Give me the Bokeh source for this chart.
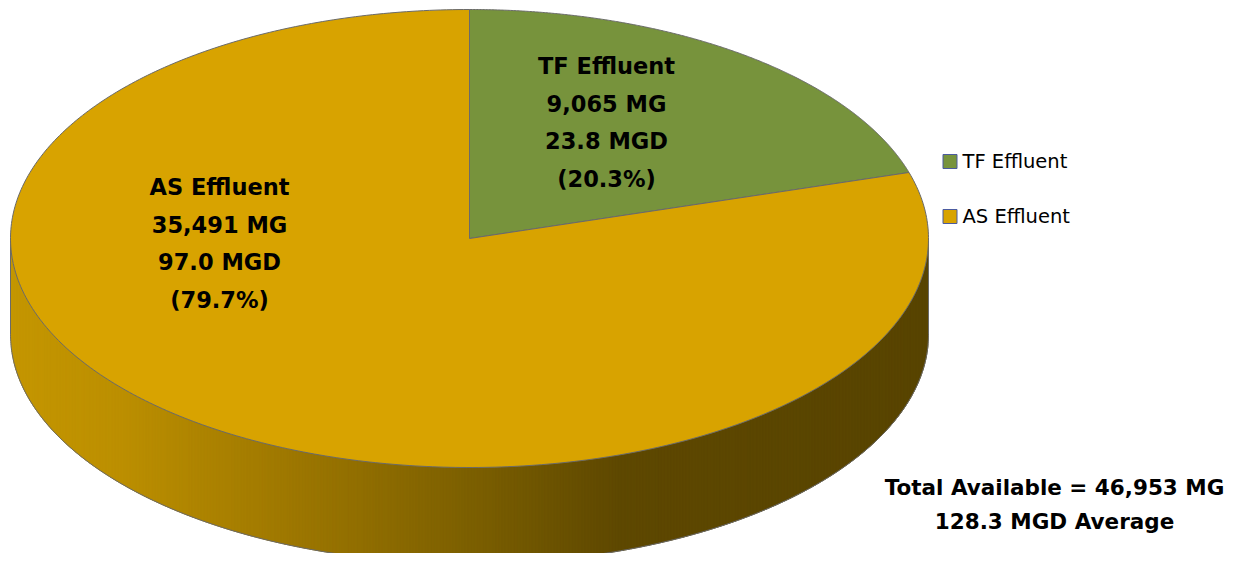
import numpy as np
from bokeh.plotting import figure
from bokeh.models import Range1d
from bokeh.core.properties import value
from bokeh.embed import file_html
from bokeh.resources import INLINE

# ---- data ----
categories = ["TF Effluent", "AS Effluent"]
volume_mg = [9065, 35491]
flow_mgd = [23.8, 97.0]
percent = [20.3, 79.7]
total_mg = 46953
total_mgd = 128.3

# ---- styles / layout ----
colors = ["#77933C", "#D8A300"]
W, H = 1225, 553
CX, CY, RX, RY, DEPTH = 469, 238, 459, 229, 96
OUTLINE = "#6A6A6A"
FONT = value("DejaVu Sans")
label_pos = [(606, 122), (219, 243)]
LINE_GAP = 37.5

p = figure(width=W, height=H, output_backend="svg", toolbar_location=None,
           x_range=Range1d(0, W), y_range=Range1d(H, 0),
           min_border=0, outline_line_color=None)
p.axis.visible = False
p.grid.visible = False
p.background_fill_color = "white"
p.border_fill_color = "white"


def pt(theta, dy=0.0):
    return CX + RX * np.sin(theta), CY - RY * np.cos(theta) + dy


# ---- side wall (front half, horizontal gradient) ----
stops_x = [10, 120, 300, 480, 620, 928]
stops_c = [(196, 150, 0), (188, 143, 0), (156, 118, 0), (122, 94, 0), (94, 72, 0), (88, 68, 0)]


def wall_color(x):
    r = np.interp(x, stops_x, [c[0] for c in stops_c])
    g = np.interp(x, stops_x, [c[1] for c in stops_c])
    b = np.interp(x, stops_x, [c[2] for c in stops_c])
    return "#%02x%02x%02x" % (int(round(r)), int(round(g)), int(round(b)))


def front_y(x):
    u = np.clip((x - CX) / RX, -1, 1)
    return CY + RY * np.sqrt(1 - u * u)


# full wall base (no seams), then gradient strips on top
xb = np.linspace(CX - RX, CX + RX, 600)
p.patch(np.concatenate([xb, xb[::-1]]), np.concatenate([front_y(xb), front_y(xb[::-1]) + DEPTH]),
        fill_color=wall_color(CX), line_color=None)

xe = np.linspace(CX - RX, CX + RX, 300)
xs, ys, cs = [], [], []
for i in range(len(xe) - 1):
    x0 = xe[i]
    x1 = min(xe[i + 1] + 2.5, CX + RX)
    seg = np.linspace(x0, x1, 6)
    xs.append(np.concatenate([seg, seg[::-1]]).tolist())
    ys.append(np.concatenate([front_y(seg), front_y(seg[::-1]) + DEPTH]).tolist())
    cs.append(wall_color((x0 + xe[i + 1]) / 2))
p.patches(xs, ys, fill_color=cs, line_color=cs, line_width=0.5)

# wall outline
th = np.linspace(np.pi / 2, 3 * np.pi / 2, 400)
bx, by = pt(th, DEPTH)
p.line(bx, by, line_color=OUTLINE, line_width=1)
lx, ly = pt(3 * np.pi / 2)
p.line([lx, lx], [ly, ly + DEPTH], line_color=OUTLINE, line_width=1)
rx_, ry_ = pt(np.pi / 2)
p.line([rx_, rx_], [ry_, ry_ + DEPTH], line_color=OUTLINE, line_width=1)

# ---- top face wedges ----
vals = np.array(volume_mg, dtype=float)
cum = np.concatenate([[0], np.cumsum(vals)]) / vals.sum() * 2 * np.pi
wx, wy = [], []
for i in range(len(vals)):
    t = np.linspace(cum[i], cum[i + 1], 400)
    ax, ay = pt(t)
    wx.append(np.concatenate([[CX], ax, [CX]]).tolist())
    wy.append(np.concatenate([[CY], ay, [CY]]).tolist())
p.patches(wx, wy, fill_color=colors, line_color=OUTLINE, line_width=1)

# ---- slice labels ----
for i, name in enumerate(categories):
    lines = [name, f"{volume_mg[i]:,} MG", f"{flow_mgd[i]:.1f} MGD", f"({percent[i]:.1f}%)"]
    cx, cy = label_pos[i]
    ly_ = [cy + (k - 1.5) * LINE_GAP for k in range(len(lines))]
    p.text([cx] * len(lines), ly_, text=lines, text_font=FONT, text_font_style="bold",
           text_font_size="22.5px", text_align="center", text_baseline="middle",
           text_color="#000000")

# ---- legend ----
leg_y = [161, 216]
p.scatter([949.5] * 2, leg_y, marker="square", size=14, fill_color=colors,
          line_color="#4B5BA0", line_width=1)
p.text([962] * 2, leg_y, text=categories, text_font=FONT, text_font_size="19.5px",
       text_align="left", text_baseline="middle", text_color="#000000")

# ---- total note ----
p.text([1054, 1054], [487, 521],
       text=[f"Total Available = {total_mg:,} MG", f"{total_mgd:.1f} MGD Average"],
       text_font=FONT, text_font_style="bold", text_font_size="21.5px",
       text_align="center", text_baseline="middle", text_color="#000000")

open("out.html", "w").write(file_html(p, INLINE))
